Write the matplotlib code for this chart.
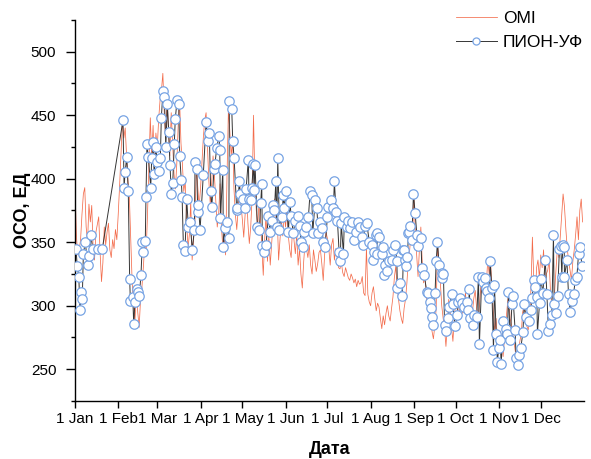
import numpy as np
import matplotlib
matplotlib.use("Agg")
import matplotlib.pyplot as plt
from matplotlib.ticker import FixedLocator

plt.rcParams['font.family'] = ['Liberation Sans', 'DejaVu Sans']

# ---- data -------------------------------------------------------------
month_starts = [0, 31, 59, 90, 120, 151, 181, 212, 243, 273, 304, 334]
month_labels = ["1 Jan", "1 Feb", "1 Mar", "1 Apr", "1 May", "1 Jun",
                "1 Jul", "1 Aug", "1 Sep", "1 Oct", "1 Nov", "1 Dec"]

# OMI daily total ozone (DU), day 0 = 1 Jan
omi_val = [
    394, 355, 340, 344, 352, 372, 388, 393, 362, 350, 380, 366, 379, 345, 336, 358,
    364, 370, 342, 319, 334, 362, 348, 358, 365, 344, 338, 352, 345, 360, 352,
    372, 395, 420, 445, 432, 440, 418, 398, 385, 352, 318, 300, 288, 312, 295,
    283, 305, 315, 330, 348, 342, 372, 410, 448, 418, 442, 405, 436,
    425, 447, 462, 470, 483, 452, 432, 466, 438, 418, 452, 428, 404, 392, 412,
    442, 462, 428, 412, 390, 398, 368, 345, 356, 382, 336, 352, 366, 410, 394, 378,
    392, 412, 432, 446, 452, 424, 398, 380, 396, 418, 402, 382, 362, 372, 396,
    362, 346, 356, 340, 402, 454, 438, 418, 430, 392, 372, 360, 376, 396, 380,
    368, 354, 372, 390, 365, 349, 362, 385, 450, 398, 375, 362, 382, 368, 345,
    324, 352, 372, 335, 355, 332, 348, 365, 384, 357, 370, 336, 352, 368, 355, 372,
    362, 378, 355, 344, 338, 362, 352, 341, 356, 332, 345, 325, 314, 335, 350,
    345, 338, 348, 332, 325, 344, 336, 327, 333, 342, 344, 333, 320, 340, 358,
    353, 345, 332, 348, 353, 336, 345, 338, 330, 329, 334, 326, 323, 330, 326,
    322, 320, 325, 322, 318, 321, 315, 320, 317, 318, 323, 310, 308, 346, 309, 303,
    300, 310, 315, 305, 296, 302, 299, 290, 282, 292, 285, 294, 300, 292, 288,
    298, 307, 322, 331, 315, 305, 296, 290, 286, 298, 305, 318, 335, 344, 357, 348,
    388, 360, 340, 323, 345, 362, 334, 318, 325, 305, 298, 310, 292, 280, 274,
    284, 298, 350, 330, 318, 300, 290, 282, 268, 285, 305, 296, 283, 272, 290,
    304, 298, 290, 300, 306, 294, 300, 310, 296, 292, 300, 288, 295, 306, 312,
    298, 290, 300, 315, 310, 320, 312, 318, 336, 325, 336, 310, 295, 280, 290, 270,
    265, 280, 272, 260, 275, 288, 300, 311, 290, 285, 277, 270, 262, 258, 265,
    272, 278, 295, 300, 290, 284, 281, 290, 315, 354, 320, 305, 330, 336, 322,
    340, 330, 344, 318, 325, 328, 336, 310, 300, 298, 312, 330, 346, 338, 355,
    372, 388, 378, 360, 345, 335, 328, 320, 335, 344, 356, 370, 352, 375, 384, 366,
]
omi_day = np.arange(len(omi_val))

# PION-UV measurements: day of year and total ozone (DU)
pion_day = [
    0.7, 1.6, 2.7, 3.6, 4.3, 5.2, 6.0, 7.4, 9.1, 10.3, 11.3, 12.7, 16.7, 19.6,
    34.4, 35.2, 35.9, 37.1, 38.2, 39.2, 39.7, 41.4, 42.1, 43.0, 44.3, 45.4, 46.1,
    47.3, 48.3, 49.0, 50.4, 50.9, 51.6, 52.6, 54.3, 55.0, 56.2, 56.7, 57.9, 59.0,
    60.5, 61.2, 61.9, 63.1, 64.1, 65.1, 66.2, 67.2, 68.1, 69.1, 70.1, 71.2, 71.9,
    73.2, 74.4, 75.1, 76.2, 76.8, 77.7, 78.9, 80.1, 81.3, 82.5, 84.1, 85.6, 86.1,
    87.3, 88.0, 88.5,
    89.7, 92.0, 94.0, 95.2, 96.3, 97.3, 98.1, 99.7, 100.4, 101.6, 103.3, 103.8,
    104.3, 106.0, 106.4, 107.6, 108.8, 110.3, 110.7, 112.4, 113.1, 114.1, 116.0,
    116.4, 117.9, 118.4, 120.7, 122.0, 122.7, 124.3, 124.8, 126.0, 126.8, 127.9,
    128.4, 129.1, 130.8, 132.2, 133.2, 133.9, 134.4, 135.8, 137.0, 138.7, 139.9,
    141.1, 141.8, 143.0, 144.0, 144.7, 145.4, 146.6, 148.3, 149.4, 150.1, 151.4,
    153.0, 154.2, 154.9, 156.6, 157.8, 160.2, 161.3, 162.1, 163.3, 164.3, 165.7,
    167.4, 168.6, 169.8, 170.5, 172.2, 173.4, 174.5, 175.8, 177.0, 178.1, 179.3,
    181.0, 181.7, 183.6, 185.3, 186.0, 187.2, 188.2, 189.4, 190.2, 190.9, 192.5,
    193.2, 194.9, 196.1, 197.3, 198.5, 200.1, 201.6, 203.2, 204.4, 205.6, 206.3,
    208.0, 209.2, 211.1, 212.8, 214.0, 214.5, 215.7, 216.4, 216.9, 218.3, 220.0,
    221.2, 221.7, 222.4, 223.6, 225.5, 227.2, 228.3, 229.6, 230.8, 231.2, 233.1,
    234.8, 235.5, 236.0, 236.7, 237.4, 238.4, 239.1, 239.8, 240.3, 241.5, 242.7,
    243.9, 245.1, 245.8, 248.0, 248.7, 250.4, 252.3, 253.4, 254.7, 255.2, 256.3,
    257.0, 258.2, 259.0, 259.9, 261.1, 263.0, 263.5, 264.2, 265.0, 266.1, 267.8,
    268.4, 270.2, 270.9, 272.6, 274.2, 274.9, 276.2, 277.4, 278.6, 281.0, 282.1,
    282.8, 283.4, 285.3, 286.2, 288.1, 289.3, 290.0, 291.7, 292.4, 294.1, 294.8,
    295.8, 297.2, 297.7, 298.9, 300.1, 300.8, 302.0, 302.9, 303.9, 304.9, 305.6,
    307.2, 309.2, 310.1, 310.8, 312.1, 313.3, 314.0, 315.6, 316.3, 318.0, 318.7,
    319.7, 321.2, 322.1, 323.5, 325.9, 326.9, 327.6, 329.3, 330.0, 331.2, 331.6,
    333.1, 334.1, 335.5, 337.2, 338.4, 339.5, 340.7, 341.9, 343.1, 343.6, 345.0,
    346.0, 347.4, 348.4, 349.1, 349.8, 350.8, 351.0, 352.7, 353.9, 355.1, 356.3,
    357.5, 358.7, 359.9, 361.1, 362.3, 363.5,
]
pion_val = [
    345, 331, 323, 297, 311, 305, 341, 350, 332, 339, 356, 345, 345, 345,
    446, 393, 405, 417, 390, 321, 304, 307, 286, 303, 313, 311, 308,
    324, 350, 342, 351, 386, 427, 417, 393, 416, 429, 404, 425, 413,
    406, 416, 448, 469, 464, 425, 459, 437, 411, 388, 397, 427, 447,
    462, 459, 418, 399, 386, 348, 343, 384, 362, 366, 344, 360, 413,
    408, 374, 379,
    360, 403, 445, 430, 436, 390, 378, 408, 412, 424, 434, 423,
    369, 407, 346, 361, 366, 353, 461, 455, 430, 416, 375,
    377, 398, 388, 384, 377, 392, 415, 384, 383, 393, 412,
    391, 411, 362, 360, 381, 396, 347, 342, 348, 371, 358,
    367, 379, 375, 398, 362, 416, 360, 370, 387, 377, 390,
    358, 382, 371, 357, 367, 371, 363, 350, 346, 358, 362,
    370, 390, 387, 357, 383, 377, 357, 366, 361, 350, 346,
    370, 378, 383, 377, 398, 374, 367, 342, 335, 365, 341,
    370, 362, 367, 361, 366, 352, 358, 366, 362, 354, 348,
    363, 365, 350, 348, 336, 342, 356, 341, 357, 354, 341,
    346, 324, 332, 327, 335, 336, 344, 348, 335, 314, 318,
    308, 344, 344, 336, 331, 338, 357, 358, 363, 352, 388,
    373, 356, 347, 353, 330, 324, 311, 310, 303, 298, 291,
    285, 310, 335, 350, 332, 326, 322, 325, 285, 280, 290,
    299, 309, 301, 284, 293, 303, 306, 302, 299, 303, 297,
    313, 290, 285, 293, 291, 323, 270, 323, 319, 322, 314,
    312, 306, 335, 314, 265, 316, 278, 256, 267, 273, 254,
    288, 282, 278, 311, 273, 301, 308, 281, 259, 253, 261,
    267, 279, 301, 291, 288, 297, 306, 320, 315, 307, 278,
    302, 321, 310, 336, 309, 280, 286, 293, 356, 301, 294,
    308, 345, 347, 323, 348, 346, 323, 336, 309, 295, 304,
    309, 320, 323, 341, 346, 331,
]

# ---- figure -----------------------------------------------------------
fig = plt.figure(figsize=(5.91, 4.59), dpi=100)
ax = fig.add_axes([75 / 591, 1 - 401 / 459, (584 - 75) / 591, (401 - 20) / 459])

ax.plot(omi_day, omi_val, color='#f36c4c', lw=0.55, label='OMI', zorder=2)
ax.plot(pion_day, pion_val, color='#353535', lw=0.7, marker='o', ms=6.8,
        mfc='white', mec='#78a4e4', mew=0.9, label='ПИОН-УФ', zorder=3)

ax.set_xlim(0, 365)
ax.set_ylim(225, 525)
ax.set_xticks(month_starts)
ax.set_xticklabels(month_labels)
ax.set_yticks([250, 300, 350, 400, 450, 500])
ax.yaxis.set_minor_locator(FixedLocator([225, 275, 325, 375, 425, 475, 525]))

for s in ['top', 'right']:
    ax.spines[s].set_visible(False)
for s in ['left', 'bottom']:
    ax.spines[s].set_linewidth(1.0)

ax.tick_params(axis='both', which='major', direction='out', width=1.0,
               labelsize=11, colors='black')
ax.tick_params(axis='y', which='major', length=6.5, pad=7)
ax.tick_params(axis='y', which='minor', length=3.2, width=1.0)
ax.tick_params(axis='x', which='major', length=5, pad=3)

ax.set_ylabel('ОСО, ЕД', fontsize=13, fontweight='bold', labelpad=0)
ax.set_xlabel('Дата', fontsize=13, fontweight='bold', labelpad=11)

fig.legend(loc='upper left', bbox_to_anchor=(456 / 591, 1 - 11 / 459),
           frameon=False, fontsize=12.5, handlelength=2.35, handletextpad=0.35,
           labelspacing=0.5, borderpad=0, borderaxespad=0, markerscale=0.75)

fig.savefig('out.png', dpi=100)
